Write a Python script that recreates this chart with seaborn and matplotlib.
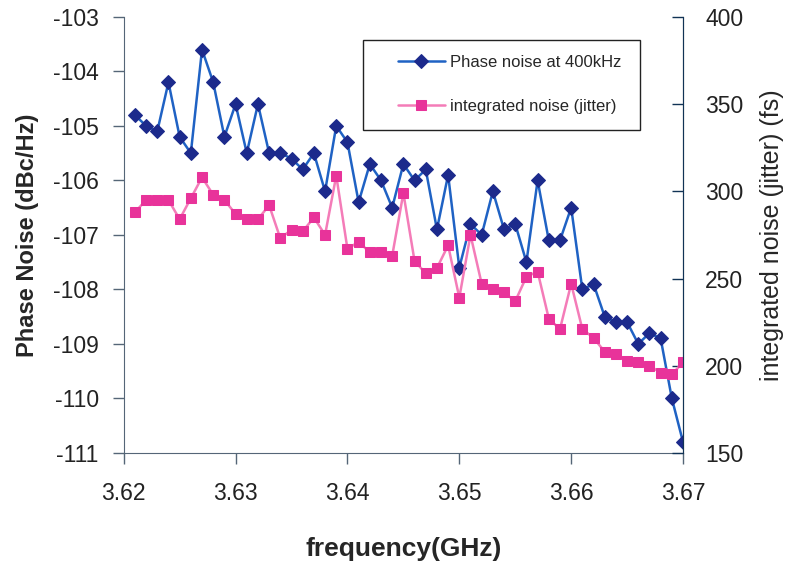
import numpy as np
import pandas as pd
import matplotlib
matplotlib.use("Agg")
import matplotlib.pyplot as plt
from matplotlib.patches import Rectangle
import seaborn as sns

# frequency points (GHz)
freq = [3.621, 3.622, 3.623, 3.624, 3.625, 3.626, 3.627, 3.628, 3.629, 3.630,
        3.631, 3.632, 3.633, 3.634, 3.635, 3.636, 3.637, 3.638, 3.639, 3.640,
        3.641, 3.642, 3.643, 3.644, 3.645, 3.646, 3.647, 3.648, 3.649, 3.650,
        3.651, 3.652, 3.653, 3.654, 3.655, 3.656, 3.657, 3.658, 3.659, 3.660,
        3.661, 3.662, 3.663, 3.664, 3.665, 3.666, 3.667, 3.668, 3.669, 3.670]

# phase noise at 400kHz offset (dBc/Hz)
phase_noise = [-104.8, -105.0, -105.1, -104.2, -105.2, -105.5, -103.6, -104.2, -105.2, -104.6,
               -105.5, -104.6, -105.5, -105.5, -105.6, -105.8, -105.5, -106.2, -105.0, -105.3,
               -106.4, -105.7, -106.0, -106.5, -105.7, -106.0, -105.8, -106.9, -105.9, -107.6,
               -106.8, -107.0, -106.2, -106.9, -106.8, -107.5, -106.0, -107.1, -107.1, -106.5,
               -108.0, -107.9, -108.5, -108.6, -108.6, -109.0, -108.8, -108.9, -110.0, -110.8]

# integrated noise / jitter (fs)
jitter = [288, 295, 295, 295, 284, 296, 308, 298, 295, 287,
          284, 284, 292, 273, 278, 277, 285, 275, 309, 267,
          271, 265, 265, 263, 299, 260, 253, 256, 269, 239,
          275, 247, 244, 242, 237, 251, 254, 227, 221, 247,
          221, 216, 208, 207, 203, 202, 200, 196, 195, 202]

df = pd.DataFrame({"freq": freq, "phase": phase_noise, "jitter": jitter})

sns.set_style("ticks")
plt.rcParams["font.family"] = ["Liberation Sans", "DejaVu Sans"]
plt.rcParams["axes.unicode_minus"] = False

fig = plt.figure(figsize=(7.9, 5.62), dpi=100)
ax = fig.add_axes([0.1566, 0.194, 0.7080, 0.776])
ax2 = ax.twinx()

sns.lineplot(data=df, x="freq", y="phase", ax=ax, color="#1f62c4", linewidth=1.8,
             marker="D", markersize=7, markerfacecolor="#1c2a8c", markeredgecolor="#1c2a8c",
             label="Phase noise at 400kHz", legend=False)
sns.lineplot(data=df, x="freq", y="jitter", ax=ax2, color="#f47cb8", linewidth=1.8,
             marker="s", markersize=7, markerfacecolor="#e8339a", markeredgecolor="#e8339a",
             label="integrated noise (jitter)", legend=False)

ax.set_xlim(3.62, 3.67)
ax.set_ylim(-111, -103)
ax2.set_ylim(150, 400)
ax.set_xticks(np.arange(3.62, 3.6701, 0.01))
ax.set_xticklabels(["3.62", "3.63", "3.64", "3.65", "3.66", "3.67"])
ax.set_yticks(np.arange(-111, -102, 1))
ax2.set_yticks(np.arange(150, 401, 50))

ax.tick_params(axis="x", labelsize=16.5, length=8, width=1, pad=13, colors="#556677", labelcolor="#222222")
ax.tick_params(axis="y", labelsize=16.5, length=8, width=1, pad=10, colors="#556677", labelcolor="#222222")
ax2.tick_params(axis="y", direction="in", labelsize=16.5, length=8, width=1, pad=16,
                colors="#113355", labelcolor="#222222")
for a in (ax, ax2):
    a.spines["top"].set_visible(False)
ax.spines["left"].set_color("#556677")
ax.spines["bottom"].set_color("#556677")
ax2.spines["right"].set_color("#113355")
ax2.spines["left"].set_visible(False)
ax2.spines["bottom"].set_visible(False)

ax.set_xlabel("frequency(GHz)", fontsize=19, fontweight="bold", labelpad=23)
ax.set_ylabel("Phase Noise (dBc/Hz)", fontsize=17, fontweight="bold", labelpad=10)
ax2.set_ylabel("integrated noise (jitter) (fs)", fontsize=18, labelpad=12)

# legend box drawn as a plain rectangle, entries placed inside it
fig.patches.append(Rectangle((363 / 790, 1 - 130 / 562), 277 / 790, 90 / 562,
                             transform=fig.transFigure, facecolor="white",
                             edgecolor="#222222", linewidth=1, zorder=5))
h1, l1 = ax.get_legend_handles_labels()
h2, l2 = ax2.get_legend_handles_labels()
leg = fig.legend(h1 + h2, l1 + l2, loc="upper left",
                 bbox_to_anchor=(398 / 790, 1 - 55 / 562),
                 frameon=False, fontsize=12, labelspacing=1.75, handlelength=2.8,
                 borderpad=0, handletextpad=0.3, borderaxespad=0)
leg.set_zorder(6)

fig.savefig("out.png", dpi=100, facecolor="white")
